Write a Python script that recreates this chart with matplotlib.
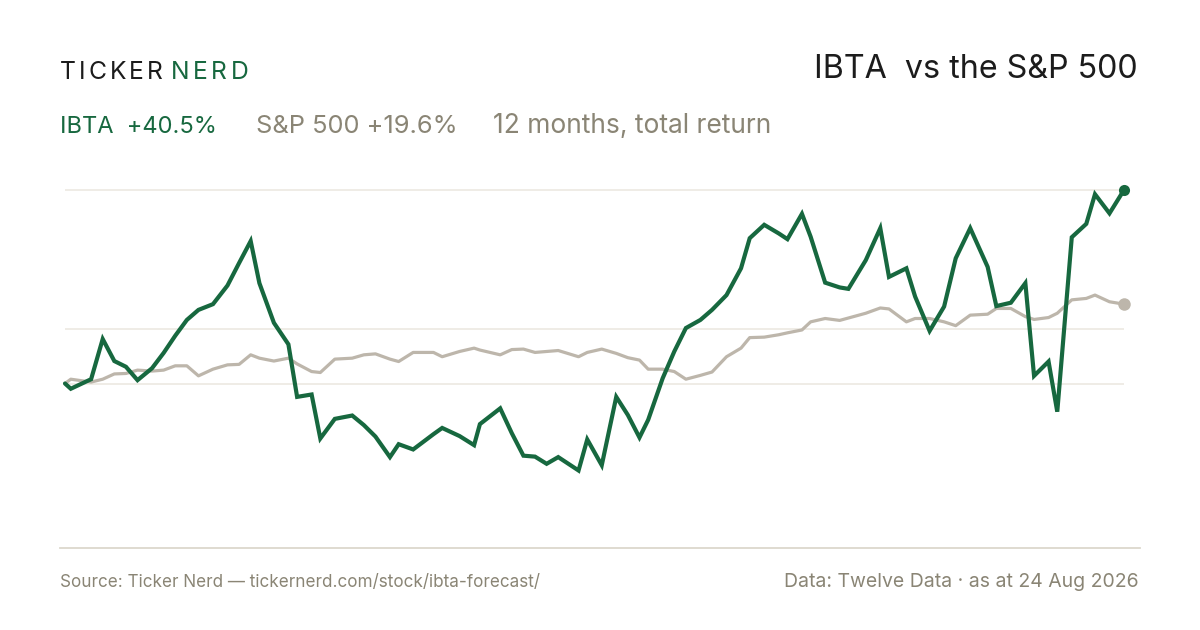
import numpy as np
import pandas as pd
import matplotlib
matplotlib.use("Agg")
import matplotlib.pyplot as plt
from matplotlib.lines import Line2D

# colours
GREEN = "#17683f"
SPX_COL = "#bdb6ab"
GREY_TXT = "#8a8575"
GRID_COL = "#ece9e2"
RULE_COL = "#dcd8cd"
DARK = "#1c1c1c"

# data (day offsets from start, cumulative total return in %)
start_date = "2025-08-24"
day_offsets = [0, 2, 9, 13, 17, 21, 25, 30, 34, 38, 42, 46, 51, 56, 60, 64, 67, 72,
               77, 80, 85, 88, 93, 99, 103, 107, 112, 115, 120, 127, 130, 136, 141,
               143, 150, 154, 158, 162, 166, 170, 177, 180, 185, 190, 194, 198, 201,
               206, 210, 214, 219, 223, 228, 233, 236, 241, 246, 249, 254, 257, 262,
               267, 270, 276, 281, 284, 290, 293, 298, 303, 307, 312, 318, 321, 326,
               331, 334, 339, 342, 347, 352, 355, 360, 365]

ibta_ret = [0.0, -1.1, 0.9, 9.3, 4.7, 3.5, 0.7, 3.2, 6.4, 10.0, 13.3, 15.4, 16.6,
            20.5, 25.2, 29.8, 21.0, 12.7, 8.2, -2.8, -2.3, -11.5, -7.4, -6.7, -8.7,
            -11.1, -15.4, -12.7, -13.8, -10.6, -9.3, -11.0, -12.9, -8.5, -5.2, -10.4,
            -15.1, -15.3, -16.8, -15.4, -18.2, -11.7, -17.1, -2.8, -6.6, -11.3, -7.6,
            1.1, 6.7, 11.6, 13.3, 15.4, 18.5, 24.1, 30.4, 33.2, 31.4, 30.2, 35.5,
            30.7, 21.1, 20.1, 19.8, 25.8, 32.5, 22.3, 24.1, 18.2, 11.0, 16.1, 26.2,
            32.5, 24.4, 16.2, 16.9, 21.0, 1.6, 4.6, -5.9, 30.6, 33.4, 39.6, 35.6, 40.5]

spx_ret = [0.0, 0.9, 0.3, 0.9, 2.0, 2.1, 2.8, 2.6, 2.8, 3.7, 3.7, 1.6, 3.0, 3.9,
           4.0, 6.0, 5.3, 4.7, 5.3, 4.1, 2.5, 2.3, 5.1, 5.3, 6.0, 6.2, 5.1, 4.6,
           6.5, 6.5, 5.6, 6.7, 7.4, 7.0, 6.0, 7.1, 7.2, 6.5, 6.7, 6.9, 5.6, 6.5,
           7.2, 6.3, 5.4, 4.9, 3.0, 3.0, 2.5, 0.9, 1.7, 2.4, 5.6, 7.4, 9.6, 9.7,
           10.2, 10.6, 11.2, 12.9, 13.6, 13.2, 13.7, 14.7, 15.8, 15.6, 12.9, 13.6,
           13.6, 12.9, 12.1, 14.3, 14.5, 15.7, 15.7, 14.0, 13.4, 13.8, 14.7, 17.5,
           17.8, 18.5, 17.1, 16.6]

grid_levels = [0.0, 11.4, 40.5]

title = "IBTA  vs the S&P 500"
ibta_label = "IBTA  +40.5%"
spx_label = "S&P 500 +19.6%"
period_label = "12 months, total return"
source_text = "Source: Ticker Nerd \u2014 tickernerd.com/stock/ibta-forecast/"
data_text = "Data: Twelve Data \u00b7 as at 24 Aug 2026"

dates = pd.Timestamp(start_date) + pd.to_timedelta(day_offsets, unit="D")

plt.rcParams["font.family"] = ["Inter", "DejaVu Sans"]

W, H = 1200, 630
fig = plt.figure(figsize=(W / 100, H / 100), dpi=100)
fig.patch.set_facecolor("white")


def fx(x):
    return x / W


def fy(y):
    return 1 - y / H


# plot area (pixel box 65..1124 x 160..530)
ax = fig.add_axes([fx(65), fy(530), fx(1124) - fx(65), fy(160) - fy(530)])
ax.set_xlim(dates[0], dates[-1])
ax.set_ylim(-30.65, 46.76)
ax.axis("off")

for g in grid_levels:
    ax.axhline(g, color=GRID_COL, lw=1.2, zorder=1)

ax.plot(dates, spx_ret, color=SPX_COL, lw=2.3, solid_joinstyle="round",
        solid_capstyle="round", zorder=2, clip_on=False)
ax.plot(dates, ibta_ret, color=GREEN, lw=3.0, solid_joinstyle="miter",
        solid_capstyle="round", zorder=3, clip_on=False)
ax.plot(dates[-1], spx_ret[-1], "o", color=SPX_COL, ms=9, mec="none",
        zorder=4, clip_on=False)
ax.plot(dates[-1], ibta_ret[-1], "o", color=GREEN, ms=8, mec="none",
        zorder=5, clip_on=False)

# header logo with letter spacing
renderer = fig.canvas.get_renderer()


def spaced(word, x0, y0, color, size, track):
    x = x0
    for ch in word:
        t = fig.text(fx(x), fy(y0), ch, color=color, fontsize=size,
                     va="baseline", ha="left")
        w = t.get_window_extent(renderer).width
        x += w + track
    return x - track


end = spaced("TICKER", 60, 79, DARK, 17.8, 3.0)
spaced("NERD", end + 8, 79, GREEN, 17.8, 3.6)

fig.text(fx(1138), fy(78), title, color=DARK, fontsize=23.2, ha="right",
         va="baseline")

fig.text(fx(60), fy(133), ibta_label, color=GREEN, fontsize=17.0, va="baseline")
fig.text(fx(256), fy(133), spx_label, color=GREY_TXT, fontsize=18.3,
         va="baseline")
fig.text(fx(493), fy(133), period_label, color=GREY_TXT, fontsize=19.0,
         va="baseline")

# footer
fig.add_artist(Line2D([fx(60), fx(1140)], [fy(548), fy(548)], color=RULE_COL,
                      lw=1.3))
fig.text(fx(60), fy(587), source_text, color=GREY_TXT, fontsize=12.3,
         va="baseline")
fig.text(fx(1139), fy(587), data_text, color=GREY_TXT, fontsize=14.0,
         ha="right", va="baseline")

fig.savefig("out.png", dpi=100, facecolor="white")
